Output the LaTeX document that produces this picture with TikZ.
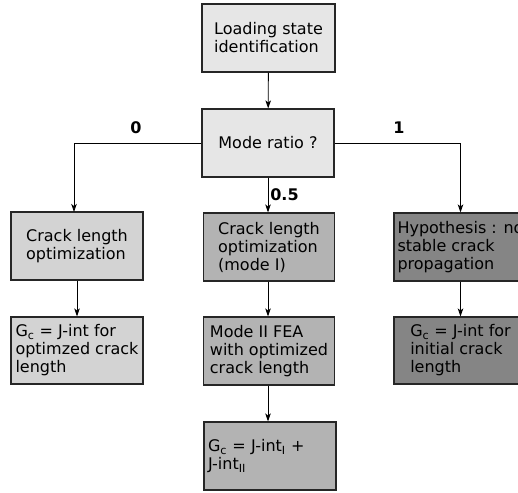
\documentclass[tikz,border=0pt]{standalone}
\usepackage{fontspec}
\setmainfont{DejaVu Sans}
\usetikzlibrary{arrows.meta}
\definecolor{topfill}{HTML}{E6E6E6}
\definecolor{leftfill}{HTML}{D3D3D3}
\definecolor{midfill}{HTML}{B3B3B3}
\definecolor{rightfill}{HTML}{858585}
\begin{document}
\begin{tikzpicture}[x=1pt,y=-1pt,
  box/.style={draw=black!85,line width=1.1pt,minimum width=132pt,minimum height=68pt,
    inner sep=0pt,align=left,font=\fontsize{16}{18}\selectfont},
  conn/.style={line width=0.9pt,-{Stealth[length=8pt,width=5.5pt,inset=2pt]}},
  lab/.style={font=\fontsize{16}{18}\selectfont\bfseries,inner sep=0pt}]
\useasboundingbox (0,0) rectangle (518,492);
\node[box,fill=topfill,minimum width=133pt] (top) at (268.5,38) {Loading state\\identification};
\node[box,fill=topfill] (mode) at (268,143) {Mode ratio ?};
\node[box,fill=leftfill] (L1) at (77,246) {Crack length\\optimization};
\node[box,fill=midfill,minimum width=131pt] (M1) at (269,247) {Crack length\\optimization\\(mode I)};
\node[box,fill=rightfill,minimum width=133pt] (R1) at (460.5,247) {Hypothesis : no\\stable crack\\propagation};
\node[box,fill=leftfill,minimum height=67pt] (L2) at (77,350.5) {G\textsubscript{c} = J-int for\\optimzed crack\\length};
\node[box,fill=midfill,minimum width=131pt] (M2) at (269,351) {Mode II FEA\\with optimized\\crack length};
\node[box,fill=rightfill,minimum width=133pt,minimum height=67pt] (R2) at (460.5,350.5) {G\textsubscript{c} = J-int for\\initial crack\\length};
\node[box,fill=midfill,text width=124pt] (B) at (270,456) {G\textsubscript{c} = J-int\textsubscript{I} +\\J-int\textsubscript{II}};
\coordinate (Lin) at (74,212);
\draw[conn] (top) -- (mode);
\draw[conn] (mode.west) -| (Lin);
\draw[conn] (mode.east) -| (R1.north);
\draw[conn] (mode.south) -- (mode.south |- M1.north);
\draw[conn] (L1) -- (L2);
\draw[conn] (R1) -- (R2);
\draw[conn] (M1.south -| mode.south) -- (M2.north -| mode.south);
\draw[conn] (M2.south -| mode.south) -- (B.north -| mode.south);
\node[lab] (l0) at (136,128) {0};
\node[lab] (l1) at (399,128) {1};
\node[lab] (l05) at (284.5,195) {0.5};
\end{tikzpicture}
\end{document}
